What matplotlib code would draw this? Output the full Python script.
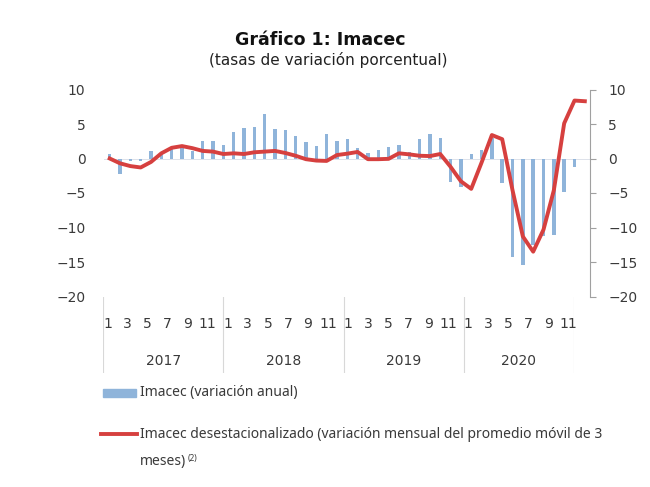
import matplotlib
matplotlib.use("Agg")
import matplotlib.pyplot as plt
from matplotlib.patches import Rectangle
from matplotlib.lines import Line2D

# Imacec annual variation (bars), Jan 2017 - Oct 2020
imacec_anual = [0.6, -2.2, -0.3, -0.4, 1.1, 1.0, 1.4, 1.8, 1.1, 2.6, 2.5, 2.0,
                3.8, 4.4, 4.6, 6.4, 4.3, 4.2, 3.2, 2.4, 1.8, 3.5, 2.6, 2.8,
                1.5, 0.85, 1.2, 1.6, 1.9, 1.0, 2.8, 3.6, 3.0, -3.4, -4.1, 0.6,
                1.3, 3.0, -3.6, -14.3, -15.4, -12.6, -11.3, -11.1, -4.9, -1.2]

# seasonally adjusted, monthly var. of 3-month moving average, Jan 2017 - Nov 2020
imacec_desest = [0.0, -0.7, -1.1, -1.3, -0.5, 0.75, 1.55, 1.8, 1.5, 1.1, 1.0, 0.65,
                 0.75, 0.65, 0.9, 1.0, 1.1, 0.8, 0.4, -0.1, -0.3, -0.35, 0.5, 0.7,
                 0.95, -0.1, -0.1, -0.05, 0.75, 0.6, 0.4, 0.35, 0.65, -1.2, -3.3, -4.4,
                 -0.6, 3.4, 2.8, -4.6, -11.3, -13.5, -10.3, -4.6, 5.1, 8.4, 8.3]

years = ["2017", "2018", "2019", "2020"]
months_per_year = [12, 12, 12, 11]
month_labels = ["1", "3", "5", "7", "9", "11"]

W, H = 650, 487


def fx(p):
    return p / W


def fy(p):
    return 1 - p / H


fig = plt.figure(figsize=(6.5, 4.87), dpi=100)

txt = "#3a3a3a"
ax = fig.add_axes([fx(103.5), fy(296.5), fx(590) - fx(103.5), fy(89.5) - fy(296.5)])
x_bar = list(range(len(imacec_anual)))
x_line = list(range(len(imacec_desest)))

ax.axhline(0, color="#dde2ea", lw=0.7, zorder=1)
ax.bar(x_bar, imacec_anual, width=0.33, color="#8fb4da", zorder=2)
ax.plot(x_line, imacec_desest, color="#d6403f", lw=2.8, solid_joinstyle="round", zorder=3)

ax.set_xlim(-0.6, 46.5)
ax.set_ylim(-20, 10)
ax.set_yticks([10, 5, 0, -5, -10, -15, -20])
ax.set_xticks([])
for s in ax.spines.values():
    s.set_visible(False)
ax.tick_params(axis="y", length=0, pad=13, labelsize=10, labelcolor=txt)

ax2 = ax.twinx()
ax2.set_ylim(-20, 10)
ax2.set_yticks([10, 5, 0, -5, -10, -15, -20])
for name, s in ax2.spines.items():
    s.set_visible(name == "right")
ax2.spines["right"].set_color("#a0a0a0")
ax2.spines["right"].set_linewidth(0.8)
ax2.tick_params(axis="y", length=4, width=0.8, color="#a0a0a0", pad=9,
                labelsize=10, labelcolor=txt)

# category axis (months / years)
cat = fig.add_axes([fx(103), fy(373), fx(574) - fx(103), fy(297) - fy(373)])
cat.set_xlim(0, sum(months_per_year))
cat.set_ylim(0, 1)
cat.axis("off")
start = 0
bounds = [0]
for yr, n in zip(years, months_per_year):
    for lab in month_labels:
        m = int(lab)
        if m <= n:
            cat.text(start + m - 1 + 0.45, (373 - 324) / 76, lab, ha="center", va="center",
                     fontsize=10, color=txt)
    cat.text(start + n / 2, (373 - 361) / 76, yr, ha="center", va="center",
             fontsize=10, color=txt)
    start += n
    bounds.append(start)
for b in bounds:
    cat.axvline(b, color="#d8d8d8", lw=0.8)

# titles
fig.text(fx(320), fy(40), "Gráfico 1: Imacec", ha="center", va="center",
         fontsize=12.5, fontweight="bold", color="#111111")
fig.text(fx(328), fy(60), "(tasas de variación porcentual)", ha="center", va="center",
         fontsize=11, color="#222222")

# legend
fig.add_artist(Rectangle((fx(102.5), fy(397)), fx(33), 8.5 / H, color="#8fb4da",
                         transform=fig.transFigure))
fig.text(fx(140), fy(392.5), "Imacec (variación anual)", ha="left", va="center",
         fontsize=10, color=txt, family="Noto Sans")
fig.add_artist(Line2D([fx(101), fx(137)], [fy(434), fy(434)], color="#d6403f", lw=2.8,
                      transform=fig.transFigure))
fig.text(fx(140), fy(434), "Imacec desestacionalizado (variación mensual del promedio móvil de 3",
         ha="left", va="center", fontsize=10, color=txt, family="Noto Sans")
t = fig.text(fx(140), fy(462), "meses)", ha="left", va="center", fontsize=10, color=txt,
             family="Noto Sans")
r = fig.canvas.get_renderer()
bb = t.get_window_extent(renderer=r)
fig.text(bb.x1 / W + fx(1), fy(459), "(2)", ha="left", va="center", fontsize=6,
         color=txt, family="Noto Sans")

fig.savefig("out.png", dpi=100)
